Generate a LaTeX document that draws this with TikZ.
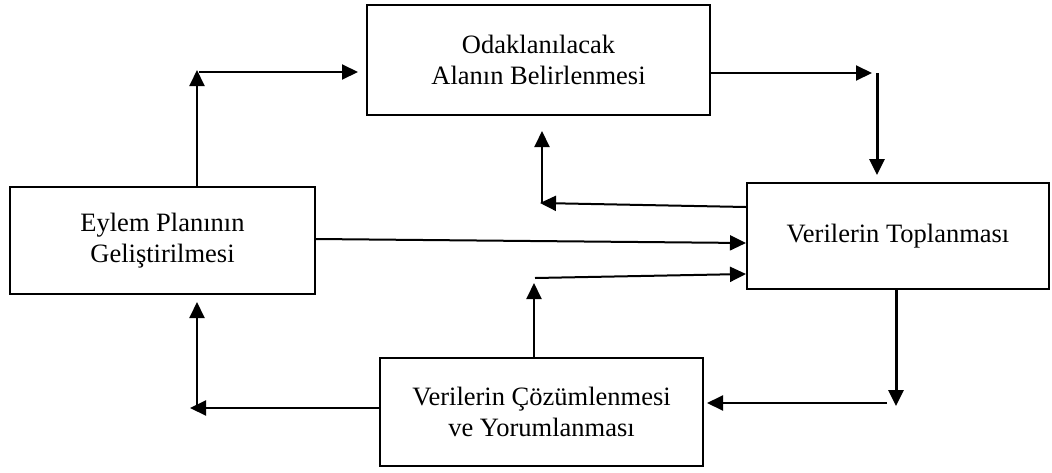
\documentclass[tikz,border=0pt]{standalone}
\usepackage{fontspec}
\setmainfont{Liberation Serif}
\usetikzlibrary{arrows.meta,calc}
\begin{document}
\begin{tikzpicture}[x=1pt,y=-1pt,
  box/.style={draw,line width=2pt,inner sep=0pt,align=center,
    font=\fontsize{26.5}{31}\selectfont},
  arr/.style={line width=2pt,-{Triangle[length=16pt,width=15pt]}},
  arrb/.style={line width=3pt,-{Triangle[length=16pt,width=15pt]}}]
\useasboundingbox (0,0) rectangle (1052,472);
\node[box,minimum width=343pt,minimum height=110pt] (top) at (538.5,60) {Odaklanılacak\\Alanın Belirlenmesi};
\node[box,minimum width=305pt,minimum height=107pt] (left) at (162.5,240.5) {Eylem Planının\\Geliştirilmesi};
\node[box,minimum width=302pt,minimum height=106pt] (right) at (898,236) {Verilerin Toplanması};
\node[box,minimum width=323pt,minimum height=108pt] (bot) at (541.5,412) {Verilerin Çözümlenmesi\\ve Yorumlanması};
% coordinates for bends
\coordinate (c1) at (197,70);
\coordinate (c1b) at (199,72);
\coordinate (c2) at (872,73);
\coordinate (c2b) at (877,73);
\coordinate (c3) at (540,203);
\coordinate (c3b) at (542,203);
\coordinate (c3e) at (542,131);
\coordinate (c5) at (534,283);
\coordinate (c5b) at (535,278);
\coordinate (c6) at (896,406);
\coordinate (c6b) at (887,403);
\coordinate (c7) at (190,408);
\coordinate (c7b) at (197,408);
% 1
\draw[arr] (c1 |- left.north) -- (c1);
\draw[arr,shorten >=8pt] (c1b) -- (top.west |- c1b);
% 2
\draw[arr] (top.east |- c2) -- (c2);
\draw[arrb,shorten >=7pt] (c2b) -- (c2b |- right.north);
% 3
\draw[arr] ([yshift=29pt]right.west) -- (c3);
\draw[arr] (c3b) -- (c3e);
% 4
\draw[arr] ([yshift=1.5pt]left.east) -- ([yshift=-7pt]right.west);
% 5
\draw[arr] (c5 |- bot.north) -- (c5);
\draw[arr] (c5b) -- ([yshift=-38pt]right.west);
% 6
\draw[arrb] (c6 |- right.south) -- (c6);
\draw[arr,shorten >=3pt] (c6b) -- (bot.east |- c6b);
% 7
\draw[arr] (bot.west |- c7) -- (c7);
\draw[arr,shorten >=7pt] (c7b) -- (c7b |- left.south);
\end{tikzpicture}
\end{document}
